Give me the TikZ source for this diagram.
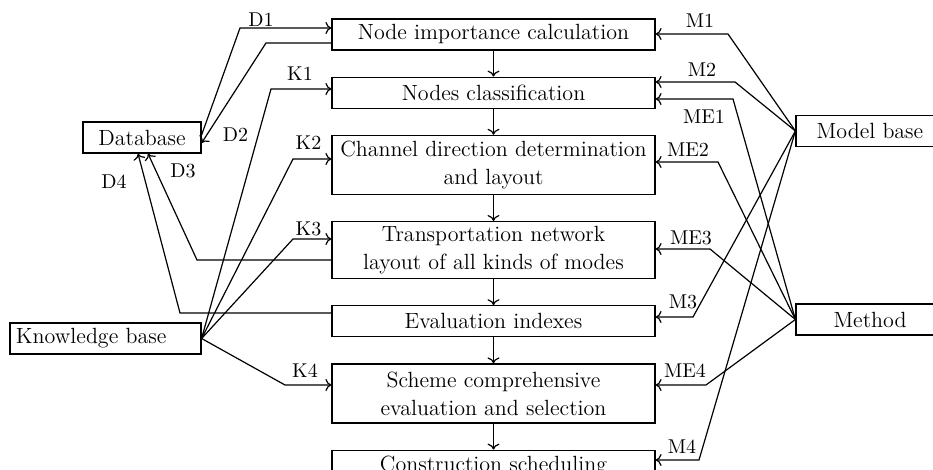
\documentclass[tikz,border=0pt]{standalone}
\usepackage{tikz}
\usetikzlibrary{arrows.meta, positioning}

\begin{document}
\begin{tikzpicture}[x=0.5pt,y=-0.5pt,line width=0.6pt,font=\fontsize{11}{14}\selectfont,
 box/.style={draw, minimum width=161.5pt, minimum height=15.5pt, inner xsep=1pt, inner ysep=1pt, align=center},
 tall/.style={minimum height=29.5pt},
 side/.style={draw, minimum height=15.5pt, inner sep=1pt},
 lab/.style={inner sep=0pt, font=\fontsize{10}{12}\selectfont},
 arr/.style={-{To[length=3pt,width=6pt]}}]
\useasboundingbox (0,0) rectangle (933,470);

\node[box] (imp) at (493.5,34.5) {Node importance calculation};
\node[box, below=13pt of imp] (cls) {Nodes classification};
\node[box, tall, below=13pt of cls] (chan) {Channel direction determination\\and layout};
\node[box, tall, minimum height=28.5pt, below=13pt of chan] (trans) {Transportation network\\layout of all kinds of modes};
\node[box, below=13pt of trans] (eval) {Evaluation indexes};
\node[box, tall, below=13pt of eval] (sch) {Scheme comprehensive\\evaluation and selection};
\node[box, below=13pt of sch] (cons) {Construction scheduling};

\node[side, minimum width=59pt] (db) at (142,137.5) {Database};
\node[side, inner xsep=3pt, text width=89.5pt, align=left] (kb) at (105.5,338.5) {Knowledge base};
\node[side, minimum width=74pt] (mb) at (870,131) {Model base};
\node[side, minimum width=74pt] (me) at (870,319.5) {Method};

\foreach \a/\b in {imp/cls, cls/chan, chan/trans, trans/eval, eval/sch, sch/cons}
  \draw[arr] (\a.south) -- (\b.north);

\coordinate (d1) at (240,28);
\coordinate (d2) at (266,43);
\coordinate (d3) at (197,260);
\coordinate (d4) at (180,313);
\draw[arr] ([yshift=1.25pt]db.east) -- (d1) -- (d1 -| imp.west);
\draw[arr] (imp.west |- d2) -- (d2) -- ([yshift=-2.75pt]db.east);
\draw[arr] (trans.west |- d3) -- (d3) -- ([xshift=3pt]db.south);
\draw[arr] (eval.west |- d4) -- (d4) -- ([xshift=-2pt]db.south);

\coordinate (k1) at (271,89);
\coordinate (k2) at (293,159);
\coordinate (k3) at (293,239);
\coordinate (k4) at (285,385);
\draw[arr] (kb.east) -- (k1) -- (k1 -| cls.west);
\draw[arr] (kb.east) -- (k2) -- (k2 -| chan.west);
\draw[arr] (kb.east) -- (k3) -- (k3 -| trans.west);
\draw[arr] (kb.east) -- (k4) -- (k4 -| sch.west);

\coordinate (m1) at (728,34);
\coordinate (m2) at (735,82);
\coordinate (m3) at (693,317);
\coordinate (m4) at (699,460);
\draw[arr] (mb.west) -- (m1) -- (m1 -| imp.east);
\draw[arr] (mb.west) -- (m2) -- (m2 -| cls.east);
\draw[arr] (mb.west) -- (m3) -- (m3 -| eval.east);
\draw[arr] (mb.west) -- (m4) -- (m4 -| cons.east);

\coordinate (e1) at (733,99);
\coordinate (e2) at (718,162);
\coordinate (e3) at (710,249);
\coordinate (e4) at (706,385);
\draw[arr] (me.west) -- (e1) -- (e1 -| cls.east);
\draw[arr] (me.west) -- (e2) -- (e2 -| chan.east);
\draw[arr] (me.west) -- (e3) -- (e3 -| trans.east);
\draw[arr] (me.west) -- (e4) -- (e4 -| sch.east);

\node[lab] (tD1) at (261,20) {D1};
\node[lab] (tD2) at (235.5,135) {D2};
\node[lab] (tD3) at (183,171) {D3};
\node[lab] (tD4) at (114,182) {D4};
\node[lab] (tK1) at (300,74) {K1};
\node[lab] (tK2) at (308.5,143) {K2};
\node[lab] (tK3) at (308.5,229) {K3};
\node[lab] (tK4) at (305,371) {K4};
\node[lab] (tM1) at (700,21) {M1};
\node[lab] (tM2) at (702,70) {M2};
\node[lab] (tM3) at (683,302) {M3};
\node[lab] (tM4) at (682,447) {M4};
\node[lab] (tE1) at (704,117) {ME1};
\node[lab] (tE2) at (688,150) {ME2};
\node[lab] (tE3) at (691,237.5) {ME3};
\node[lab] (tE4) at (685,371) {ME4};
\end{tikzpicture}
\end{document}
